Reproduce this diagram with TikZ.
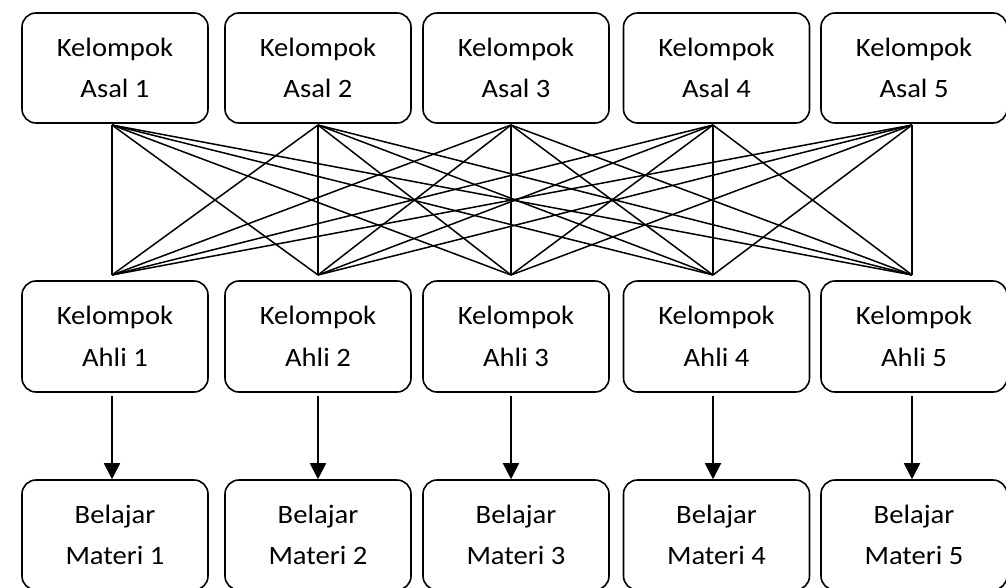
\documentclass[tikz,border=0pt]{standalone}
\usepackage{fontspec}
\setmainfont{Carlito}[FakeStretch=1.08]
\usetikzlibrary{arrows.meta}
\tikzset{
  box/.style={draw, line width=1.6pt, rounded corners=14pt, minimum width=186pt, minimum height=110pt,
    inner sep=0pt, align=center, font=\fontsize{26.5}{41.5}\selectfont},
  link/.style={line width=1.5pt},
  flow/.style={line width=1.8pt, -{Triangle[length=16pt,width=16pt]}}
}
\begin{document}
\begin{tikzpicture}[x=1pt,y=-1pt]
\useasboundingbox (0,0) rectangle (1006,587);
% top row
\node[box] (a1) at (115,68) {Kelompok\\Asal 1};
\node[box] (a2) at (318,68) {Kelompok\\Asal 2};
\node[box] (a3) at (516,68) {Kelompok\\Asal 3};
\node[box] (a4) at (716.5,68) {Kelompok\\Asal 4};
\node[box] (a5) at (914,68) {Kelompok\\Asal 5};
% middle row
\node[box, minimum height=111pt] (h1) at (115,336.5) {Kelompok\\Ahli 1};
\node[box, minimum height=111pt] (h2) at (318,336.5) {Kelompok\\Ahli 2};
\node[box, minimum height=111pt] (h3) at (516,336.5) {Kelompok\\Ahli 3};
\node[box, minimum height=111pt] (h4) at (716.5,336.5) {Kelompok\\Ahli 4};
\node[box, minimum height=111pt] (h5) at (914,336.5) {Kelompok\\Ahli 5};
% bottom row
\node[box] (b1) at (115,535) {Belajar\\Materi 1};
\node[box] (b2) at (318,535) {Belajar\\Materi 2};
\node[box] (b3) at (516,535) {Belajar\\Materi 3};
\node[box] (b4) at (716.5,535) {Belajar\\Materi 4};
\node[box] (b5) at (914,535) {Belajar\\Materi 5};
% convergence points
\coordinate (t1) at (112,125);
\coordinate (t2) at (318,125);
\coordinate (t3) at (511,125);
\coordinate (t4) at (713,125);
\coordinate (t5) at (912,125);
\coordinate (u1) at (112,275);
\coordinate (u2) at (318,275);
\coordinate (u3) at (511,275);
\coordinate (u4) at (713,275);
\coordinate (u5) at (912,275);
\foreach \i in {1,...,5}{
  \foreach \j in {1,...,5}{
    \draw[link] (t\i) -- (u\j);
  }
}
% arrows
\coordinate (s1) at (112,396);
\coordinate (s2) at (318,396);
\coordinate (s3) at (511,396);
\coordinate (s4) at (713,396);
\coordinate (s5) at (912,396);
\foreach \i in {1,...,5}{
  \draw[flow] (s\i) -- (s\i |- b\i.north);
}
\end{tikzpicture}
\end{document}
